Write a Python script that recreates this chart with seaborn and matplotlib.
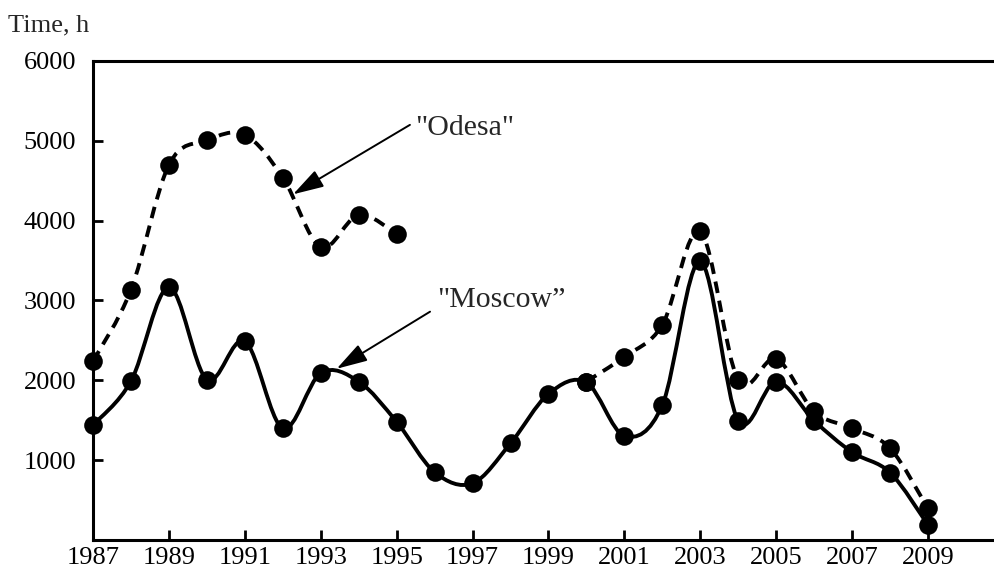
import numpy as np
import pandas as pd
import matplotlib
matplotlib.use("Agg")
import matplotlib.pyplot as plt
from matplotlib.path import Path
from matplotlib.patches import PathPatch
import seaborn as sns

# data
years_moscow = list(range(1987, 2010))
moscow = [1440, 1990, 3165, 2010, 2490, 1400, 2090, 1985, 1480, 850, 710,
          1210, 1830, 1975, 1305, 1690, 3490, 1495, 1985, 1495, 1100, 845, 190]

years_odesa_a = list(range(1987, 1996))
odesa_a = [2240, 3135, 4700, 5005, 5075, 4540, 3670, 4075, 3830]
years_odesa_b = list(range(2000, 2010))
odesa_b = [1985, 2295, 2695, 3865, 2005, 2270, 1610, 1400, 1150, 395]

x_ticks = list(range(1987, 2010, 2))
y_ticks = [1000, 2000, 3000, 4000, 5000, 6000]

sns.set_style("ticks")
plt.rcParams["font.family"] = ["Liberation Serif", "DejaVu Serif"]
plt.rcParams["font.size"] = 19


def smooth_path(xs, ys):
    # Catmull-Rom curve written as cubic Bezier segments
    p = np.column_stack([xs, ys]).astype(float)
    p = np.vstack([p[0], p, p[-1]])
    verts = [p[1]]
    codes = [Path.MOVETO]
    for i in range(1, len(p) - 2):
        c1 = p[i] + (p[i + 1] - p[i - 1]) / 6
        c2 = p[i + 1] - (p[i + 2] - p[i]) / 6
        verts += [c1, c2, p[i + 1]]
        codes += [Path.CURVE4] * 3
    return Path(verts, codes)


fig = plt.figure(figsize=(9.94, 5.76), dpi=100)
ax = fig.add_axes([0.0936, 0.0625, 0.9064, 0.8316])

dash = (0, (3.0, 2.0))
for xs, ys, ls in [(years_moscow, moscow, "-"),
                   (years_odesa_a, odesa_a, dash),
                   (years_odesa_b, odesa_b, dash)]:
    ax.add_patch(PathPatch(smooth_path(xs, ys), transform=ax.transData,
                           fill=False, edgecolor="black", lw=2.8,
                           linestyle=ls, capstyle="butt", clip_on=False, zorder=2))

pts = pd.DataFrame({
    "year": years_moscow + years_odesa_a + years_odesa_b,
    "value": moscow + odesa_a + odesa_b,
})
sns.scatterplot(data=pts, x="year", y="value", ax=ax, color="black", s=180,
                edgecolor="black", linewidth=0, zorder=3, clip_on=False, legend=False)

ax.set_xlim(1987, 2010.74)
ax.set_ylim(0, 6000)
ax.set_xticks(x_ticks)
ax.set_yticks(y_ticks)
ax.set_xlabel("")
ax.set_ylabel("")
ax.tick_params(direction="in", length=7, width=2, labelsize=19, colors="black")
ax.tick_params(axis="y", pad=12)
ax.tick_params(axis="x", pad=5)
for side in ["left", "bottom", "top"]:
    ax.spines[side].set_linewidth(2.2)
    ax.spines[side].set_color("black")
ax.spines["right"].set_visible(False)

fig.text(0.008, 0.955, "Time, h", fontsize=19, ha="left", va="center")

arrow = dict(arrowstyle="-|>,head_length=1.0,head_width=0.3", color="black", lw=1.4,
             shrinkA=0, shrinkB=0)
ax.annotate("", xy=(1992.27, 4330), xytext=(1995.35, 5200), arrowprops=arrow)
ax.text(1995.48, 5160, "\"Odesa\"", fontsize=21.5, ha="left", va="center")
ax.annotate("", xy=(1993.42, 2145), xytext=(1995.88, 2860), arrowprops=arrow)
ax.text(1996.06, 3000, "\"Moscow\u201d", fontsize=21.5, ha="left", va="center")

fig.savefig("out.png", dpi=100)
